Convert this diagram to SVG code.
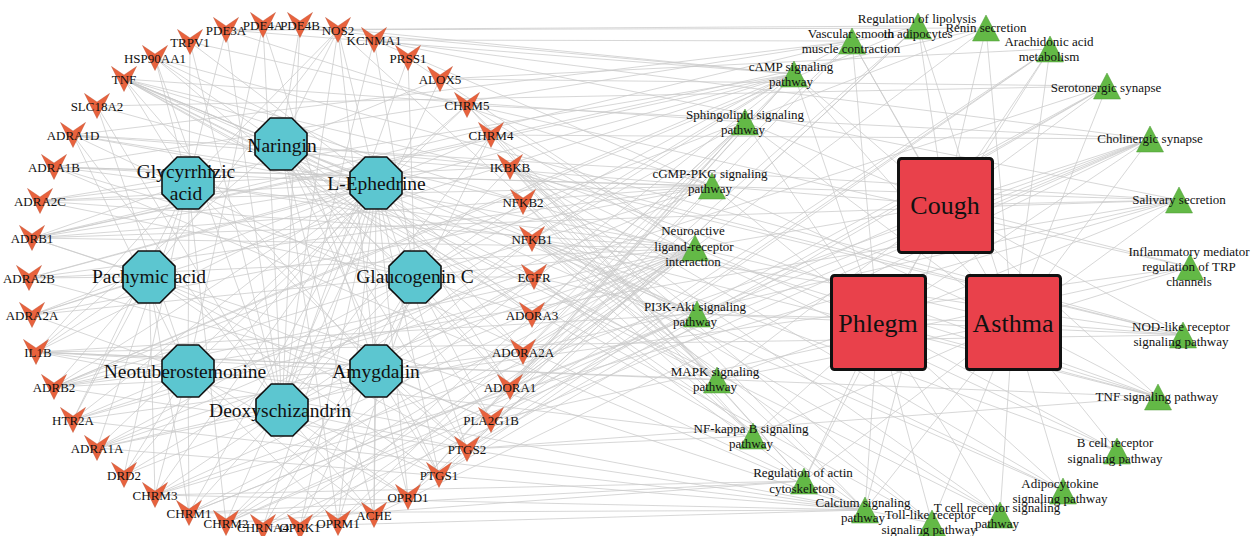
<svg xmlns="http://www.w3.org/2000/svg" xmlns:xlink="http://www.w3.org/1999/xlink" width="1251" height="536" viewBox="0 0 1251 536">
<style>
.e{fill:none;stroke:#c9c9c9;stroke-width:0.75}
.t{fill:#E8623D;stroke:#b94b2d;stroke-width:0.4}
.tl{font-family:"Liberation Serif","Times New Roman",serif;font-size:13px;fill:#111;text-anchor:middle}
.c{fill:#5CC6D0;stroke:#111;stroke-width:1.6}
.cl{font-family:"Liberation Serif","Times New Roman",serif;font-size:19.5px;fill:#111;text-anchor:middle}
.p{fill:#63B946;stroke:#4c9a36;stroke-width:0.5}
.d{fill:#E9414B;stroke:#111;stroke-width:3}
.dl{font-family:"Liberation Serif","Times New Roman",serif;font-size:26px;fill:#111;text-anchor:middle}
</style>
<defs>
<polygon id="v" points="-12.5,-12.5 0,-4 12.5,-12.5 0,12.5"/>
<polygon id="oct" points="-10.8,-26 10.8,-26 26,-10.8 26,10.8 10.8,26 -10.8,26 -26,10.8 -26,-10.8"/>
<polygon id="tri" points="0,-13 13.5,13 -13.5,13"/>
</defs>
<rect width="1251" height="536" fill="#fff"/>
<g id="connectors">
<path class="e" d="M376 183L32 238M376 183L40 201M376 183L54 167M376 183L73 135M376 183L97 106M376 183L97 448M376 183L54 387M376 183L32 315M376 183L29 278M376 183L73 420M376 183L124 475M376 183L189 513M376 183L226 523M376 183L155 495M376 183L491 135M376 183L467 105M376 183L263 527M376 183L338 523M376 183L300 527M376 183L408 497M376 183L374 515M376 183L439 475M376 183L467 449M376 183L338 30M376 183L124 79M376 183L36 352M376 183L510 387M376 183L532 315M376 183L523 352M376 183L190 42"/>
<path class="e" d="M282 410L226 30M282 410L263 25M282 410L300 25M282 410L338 30M282 410L374 40M282 410L408 58M282 410L440 79M282 410L190 42M282 410L155 58M282 410L439 475M282 410L467 449M282 410L97 448M282 410L189 513M282 410L155 495M282 410L408 497M282 410L374 515M282 410L532 239M282 410L534 277M282 410L510 167M282 410L491 135M282 410L97 106M282 410L73 135"/>
<path class="e" d="M281 144L439 475M281 144L467 449M281 144L338 30M281 144L155 58M281 144L124 79M281 144L36 352M281 144L534 277M281 144L532 239M281 144L523 202M281 144L510 167M281 144L440 79M281 144L510 387M281 144L523 352M281 144L532 315M281 144L491 420M281 144L374 515M281 144L300 25M281 144L338 523"/>
<path class="e" d="M188 183L32 238M188 183L40 201M188 183L124 79M188 183L36 352M188 183L532 239M188 183L467 449M188 183L338 30M188 183L155 58M188 183L226 523M188 183L124 475M188 183L97 448M188 183L510 167M188 183L226 30M188 183L73 420"/>
<path class="e" d="M149 277L29 278M149 277L32 315M149 277L36 352M149 277L439 475M149 277L467 449M149 277L338 30M149 277L54 387M149 277L491 420M149 277L155 495M149 277L73 420M149 277L32 238M149 277L189 513"/>
<path class="e" d="M415 277L408 58M415 277L374 40M415 277L523 202M415 277L534 277M415 277L510 387M415 277L532 315M415 277L491 420M415 277L338 523M415 277L300 527M415 277L263 527M415 277L155 58M415 277L40 201M415 277L54 167"/>
<path class="e" d="M188 371L54 387M188 371L73 420M188 371L155 495M188 371L189 513M188 371L374 515M188 371L97 106M188 371L73 135M188 371L190 42M188 371L408 497M188 371L338 523M188 371L124 475M188 371L32 315M188 371L263 25M188 371L467 105"/>
<path class="e" d="M376 371L467 449M376 371L439 475M376 371L408 497M376 371L374 515M376 371L124 79M376 371L36 352M376 371L532 239M376 371L534 277M376 371L523 352M376 371L491 420M376 371L226 523M376 371L491 135M376 371L338 30M376 371L263 25M376 371L29 278M376 371L54 387"/>
<path class="e" d="M794 74L32 238M794 74L54 387M794 74L226 30M794 74L263 25M794 74L300 25M794 74L226 523M794 74L124 475M794 74L510 387M794 74L523 352M794 74L532 239M794 74L32 315M794 74L29 278M794 74L40 201M794 74L408 497"/>
<path class="e" d="M745 122L124 79M745 122L532 239M745 122L510 387M745 122L532 315M745 122L408 497M745 122L338 523M745 122L300 527"/>
<path class="e" d="M712 186L32 238M712 186L54 387M712 186L97 448M712 186L54 167M712 186L73 135M712 186L32 315M712 186L29 278M712 186L40 201M712 186L226 30M712 186L374 40M712 186L510 387"/>
<path class="e" d="M695 248L32 238M695 248L54 387M695 248L97 448M695 248L54 167M695 248L73 135M695 248L32 315M695 248L29 278M695 248L40 201M695 248L189 513M695 248L226 523M695 248L155 495M695 248L491 135M695 248L467 105M695 248L263 527M695 248L124 475M695 248L73 420M695 248L408 497M695 248L300 527M695 248L338 523M695 248L510 387M695 248L523 352M695 248L532 315M695 248L408 58"/>
<path class="e" d="M697 314L534 277M697 314L510 167M697 314L532 239M697 314L155 58M697 314L189 513M697 314L226 523M697 314L124 79M697 314L36 352"/>
<path class="e" d="M717 380L124 79M717 380L36 352M717 380L532 239M717 380L523 202M717 380L510 167M717 380L534 277"/>
<path class="e" d="M753 436L124 79M753 436L36 352M753 436L532 239M753 436L523 202M753 436L510 167M753 436L467 449"/>
<path class="e" d="M804 481L189 513M804 481L226 523M804 481L155 495M804 481L491 135M804 481L467 105M804 481L534 277"/>
<path class="e" d="M865 510L32 238M865 510L54 387M865 510L97 448M865 510L54 167M865 510L73 135M865 510L189 513M865 510L155 495M865 510L467 105M865 510L73 420M865 510L338 30M865 510L534 277M865 510L263 527"/>
<path class="e" d="M932 523L124 79M932 523L36 352M932 523L532 239M932 523L510 167M1000 515L124 79M1000 515L532 239M1000 515L510 167M1063 491L124 79M1063 491L532 239M1063 491L510 167M1117 451L532 239M1117 451L510 167"/>
<path class="e" d="M1158 397L124 79M1158 397L36 352M1158 397L532 239M1158 397L510 167M1158 397L467 449M1183 335L532 239M1183 335L510 167M1183 335L124 79M1183 335L36 352M1183 335L155 58M1190 267L190 42M1190 267L73 420M1190 267L491 420"/>
<path class="e" d="M1179 200L32 238M1179 200L54 387M1179 200L97 448M1179 200L54 167M1179 200L73 135M1179 200L155 495M1179 200L374 40M1150 139L189 513M1150 139L226 523M1150 139L155 495M1150 139L491 135M1150 139L467 105M1150 139L374 515M1150 139L263 527M1150 139L374 40"/>
<path class="e" d="M1107 86L73 420M1107 86L439 475M1107 86L467 449M1107 86L440 79M1107 86L491 420M1107 86L97 106M1050 49L439 475M1050 49L467 449M1050 49L440 79M1050 49L491 420M986 28L32 238M986 28L54 387M986 28L226 30M986 28L510 387"/>
<path class="e" d="M852 41L97 448M852 41L54 167M852 41L73 135M852 41L374 40M852 41L523 352M852 41L491 420M918 26L32 238M918 26L54 387M918 26L226 30M918 26L510 387M918 26L439 475M918 26L467 449"/>
<path class="e" d="M945 205L918 26M945 205L852 41M945 205L986 28M945 205L1050 49M945 205L1107 86M945 205L1150 139M945 205L1179 200M945 205L1190 267M945 205L1183 335M945 205L1158 397M945 205L865 510M945 205L804 481M945 205L717 380M945 205L697 314M945 205L695 248M945 205L712 186M945 205L745 122M945 205L794 74"/>
<path class="e" d="M878 322L794 74M878 322L745 122M878 322L712 186M878 322L695 248M878 322L697 314M878 322L717 380M878 322L753 436M878 322L804 481M878 322L865 510M878 322L932 523M878 322L1000 515M878 322L1063 491M878 322L1117 451M878 322L1158 397M878 322L1183 335M878 322L1150 139M878 322L1179 200M878 322L1050 49M878 322L852 41"/>
<path class="e" d="M1013 322L918 26M1013 322L852 41M1013 322L986 28M1013 322L1050 49M1013 322L1107 86M1013 322L1150 139M1013 322L1179 200M1013 322L1190 267M1013 322L1183 335M1013 322L1158 397M1013 322L1117 451M1013 322L1063 491M1013 322L1000 515M1013 322L932 523M1013 322L865 510M1013 322L804 481M1013 322L753 436M1013 322L717 380M1013 322L697 314M1013 322L695 248M1013 322L712 186M1013 322L745 122M1013 322L794 74"/>
</g>
<g id="targets">
<g id="t-ADRB1"><use href="#v" class="t" x="32" y="238"/><text class="tl" x="32" y="243">ADRB1</text></g>
<g id="t-ADRA2C"><use href="#v" class="t" x="40" y="201"/><text class="tl" x="40" y="206">ADRA2C</text></g>
<g id="t-ADRA1B"><use href="#v" class="t" x="54" y="167"/><text class="tl" x="54" y="172">ADRA1B</text></g>
<g id="t-ADRA1D"><use href="#v" class="t" x="73" y="135"/><text class="tl" x="73" y="140">ADRA1D</text></g>
<g id="t-SLC18A2"><use href="#v" class="t" x="97" y="106"/><text class="tl" x="97" y="111">SLC18A2</text></g>
<g id="t-TNF"><use href="#v" class="t" x="124" y="79"/><text class="tl" x="124" y="84">TNF</text></g>
<g id="t-HSP90AA1"><use href="#v" class="t" x="155" y="58"/><text class="tl" x="155" y="63">HSP90AA1</text></g>
<g id="t-TRPV1"><use href="#v" class="t" x="190" y="42"/><text class="tl" x="190" y="47">TRPV1</text></g>
<g id="t-PDE3A"><use href="#v" class="t" x="226" y="30"/><text class="tl" x="226" y="35">PDE3A</text></g>
<g id="t-PDE4A"><use href="#v" class="t" x="263" y="25"/><text class="tl" x="263" y="30">PDE4A</text></g>
<g id="t-PDE4B"><use href="#v" class="t" x="300" y="25"/><text class="tl" x="300" y="30">PDE4B</text></g>
<g id="t-NOS2"><use href="#v" class="t" x="338" y="30"/><text class="tl" x="338" y="35">NOS2</text></g>
<g id="t-KCNMA1"><use href="#v" class="t" x="374" y="40"/><text class="tl" x="374" y="45">KCNMA1</text></g>
<g id="t-PRSS1"><use href="#v" class="t" x="408" y="58"/><text class="tl" x="408" y="63">PRSS1</text></g>
<g id="t-ALOX5"><use href="#v" class="t" x="440" y="79"/><text class="tl" x="440" y="84">ALOX5</text></g>
<g id="t-CHRM5"><use href="#v" class="t" x="467" y="105"/><text class="tl" x="467" y="110">CHRM5</text></g>
<g id="t-CHRM4"><use href="#v" class="t" x="491" y="135"/><text class="tl" x="491" y="140">CHRM4</text></g>
<g id="t-IKBKB"><use href="#v" class="t" x="510" y="167"/><text class="tl" x="510" y="172">IKBKB</text></g>
<g id="t-NFKB2"><use href="#v" class="t" x="523" y="202"/><text class="tl" x="523" y="207">NFKB2</text></g>
<g id="t-NFKB1"><use href="#v" class="t" x="532" y="239"/><text class="tl" x="532" y="244">NFKB1</text></g>
<g id="t-EGFR"><use href="#v" class="t" x="534" y="277"/><text class="tl" x="534" y="282">EGFR</text></g>
<g id="t-ADORA3"><use href="#v" class="t" x="532" y="315"/><text class="tl" x="532" y="320">ADORA3</text></g>
<g id="t-ADORA2A"><use href="#v" class="t" x="523" y="352"/><text class="tl" x="523" y="357">ADORA2A</text></g>
<g id="t-ADORA1"><use href="#v" class="t" x="510" y="387"/><text class="tl" x="510" y="392">ADORA1</text></g>
<g id="t-PLA2G1B"><use href="#v" class="t" x="491" y="420"/><text class="tl" x="491" y="425">PLA2G1B</text></g>
<g id="t-PTGS2"><use href="#v" class="t" x="467" y="449"/><text class="tl" x="467" y="454">PTGS2</text></g>
<g id="t-PTGS1"><use href="#v" class="t" x="439" y="475"/><text class="tl" x="439" y="480">PTGS1</text></g>
<g id="t-OPRD1"><use href="#v" class="t" x="408" y="497"/><text class="tl" x="408" y="502">OPRD1</text></g>
<g id="t-ACHE"><use href="#v" class="t" x="374" y="515"/><text class="tl" x="374" y="520">ACHE</text></g>
<g id="t-OPRM1"><use href="#v" class="t" x="338" y="523"/><text class="tl" x="338" y="528">OPRM1</text></g>
<g id="t-CHRNA4"><use href="#v" class="t" x="263" y="527"/><text class="tl" x="263" y="532">CHRNA4</text></g>
<g id="t-OPRK1"><use href="#v" class="t" x="300" y="527"/><text class="tl" x="300" y="532">OPRK1</text></g>
<g id="t-CHRM2"><use href="#v" class="t" x="226" y="523"/><text class="tl" x="226" y="528">CHRM2</text></g>
<g id="t-CHRM1"><use href="#v" class="t" x="189" y="513"/><text class="tl" x="189" y="518">CHRM1</text></g>
<g id="t-CHRM3"><use href="#v" class="t" x="155" y="495"/><text class="tl" x="155" y="500">CHRM3</text></g>
<g id="t-DRD2"><use href="#v" class="t" x="124" y="475"/><text class="tl" x="124" y="480">DRD2</text></g>
<g id="t-ADRA1A"><use href="#v" class="t" x="97" y="448"/><text class="tl" x="97" y="453">ADRA1A</text></g>
<g id="t-HTR2A"><use href="#v" class="t" x="73" y="420"/><text class="tl" x="73" y="425">HTR2A</text></g>
<g id="t-ADRB2"><use href="#v" class="t" x="54" y="387"/><text class="tl" x="54" y="392">ADRB2</text></g>
<g id="t-IL1B"><use href="#v" class="t" x="36" y="352"/><text class="tl" x="38" y="357">IL1B</text></g>
<g id="t-ADRA2A"><use href="#v" class="t" x="32" y="315"/><text class="tl" x="32" y="320">ADRA2A</text></g>
<g id="t-ADRA2B"><use href="#v" class="t" x="29" y="278"/><text class="tl" x="29" y="283">ADRA2B</text></g>
</g>
<g id="compounds">
<g id="c-Naringin"><use href="#oct" class="c" x="281" y="144"/><text class="cl" x="282" y="151.5">Naringin</text></g>
<g id="c-Glycyrrhizic-acid"><use href="#oct" class="c" x="188" y="183"/><text class="cl" x="186" y="178">Glycyrrhizic</text><text class="cl" x="186" y="200">acid</text></g>
<g id="c-L-Ephedrine"><use href="#oct" class="c" x="376" y="183"/><text class="cl" x="376.5" y="190">L-Ephedrine</text></g>
<g id="c-Pachymic-acid"><use href="#oct" class="c" x="149" y="277"/><text class="cl" x="149" y="283">Pachymic acid</text></g>
<g id="c-Glaucogenin-C"><use href="#oct" class="c" x="415" y="277"/><text class="cl" x="415" y="283">Glaucogenin C</text></g>
<g id="c-Neotuberostemonine"><use href="#oct" class="c" x="188" y="371"/><text class="cl" x="185" y="378">Neotuberostemonine</text></g>
<g id="c-Amygdalin"><use href="#oct" class="c" x="376" y="371"/><text class="cl" x="376" y="378">Amygdalin</text></g>
<g id="c-Deoxyschizandrin"><use href="#oct" class="c" x="282" y="410"/><text class="cl" x="280" y="417">Deoxyschizandrin</text></g>
</g>
<g id="pathways">
<g id="p-lipolysis"><use href="#tri" class="p" x="918" y="26"/><text class="tl" x="917" y="23">Regulation of lipolysis</text><text class="tl" x="918" y="37.5">in adipocytes</text></g>
<g id="p-vascular"><use href="#tri" class="p" x="852" y="41"/><text class="tl" x="851" y="37.5">Vascular smooth</text><text class="tl" x="851" y="52.5">muscle contraction</text></g>
<g id="p-renin"><use href="#tri" class="p" x="986" y="28"/><text class="tl" x="986" y="32">Renin secretion</text></g>
<g id="p-arachidonic"><use href="#tri" class="p" x="1050" y="49"/><text class="tl" x="1049" y="45.5">Arachidonic acid</text><text class="tl" x="1049" y="61">metabolism</text></g>
<g id="p-serotonergic"><use href="#tri" class="p" x="1107" y="86"/><text class="tl" x="1106" y="91.5">Serotonergic synapse</text></g>
<g id="p-cholinergic"><use href="#tri" class="p" x="1150" y="139"/><text class="tl" x="1150" y="142.5">Cholinergic synapse</text></g>
<g id="p-salivary"><use href="#tri" class="p" x="1179" y="200"/><text class="tl" x="1179" y="204">Salivary secretion</text></g>
<g id="p-trp"><use href="#tri" class="p" x="1190" y="267"/><text class="tl" x="1189" y="256">Inflammatory mediator</text><text class="tl" x="1189" y="271">regulation of TRP</text><text class="tl" x="1189" y="286">channels</text></g>
<g id="p-nod"><use href="#tri" class="p" x="1183" y="335"/><text class="tl" x="1181" y="330.5">NOD-like receptor</text><text class="tl" x="1181" y="346">signaling pathway</text></g>
<g id="p-tnf"><use href="#tri" class="p" x="1158" y="397"/><text class="tl" x="1157" y="400.5">TNF signaling pathway</text></g>
<g id="p-bcell"><use href="#tri" class="p" x="1117" y="451"/><text class="tl" x="1115" y="447">B cell receptor</text><text class="tl" x="1115" y="462.5">signaling pathway</text></g>
<g id="p-adipocytokine"><use href="#tri" class="p" x="1063" y="491"/><text class="tl" x="1060" y="488">Adipocytokine</text><text class="tl" x="1060" y="503">signaling pathway</text></g>
<g id="p-tcell"><use href="#tri" class="p" x="1000" y="515"/><text class="tl" x="997" y="512">T cell receptor signaling</text><text class="tl" x="997" y="527.5">pathway</text></g>
<g id="p-toll"><use href="#tri" class="p" x="932" y="523"/><text class="tl" x="930" y="519">Toll-like receptor</text><text class="tl" x="929" y="533.5">signaling pathway</text></g>
<g id="p-calcium"><use href="#tri" class="p" x="865" y="510"/><text class="tl" x="863" y="506.5">Calcium signaling</text><text class="tl" x="863" y="522">pathway</text></g>
<g id="p-actin"><use href="#tri" class="p" x="804" y="481"/><text class="tl" x="803" y="477">Regulation of actin</text><text class="tl" x="802" y="492.5">cytoskeleton</text></g>
<g id="p-nfkb"><use href="#tri" class="p" x="753" y="436"/><text class="tl" x="751" y="433">NF-kappa B signaling</text><text class="tl" x="751" y="448">pathway</text></g>
<g id="p-mapk"><use href="#tri" class="p" x="717" y="380"/><text class="tl" x="715" y="375.5">MAPK signaling</text><text class="tl" x="715" y="391">pathway</text></g>
<g id="p-pi3k"><use href="#tri" class="p" x="697" y="314"/><text class="tl" x="695" y="310.5">PI3K-Akt signaling</text><text class="tl" x="695" y="325.5">pathway</text></g>
<g id="p-neuroactive"><use href="#tri" class="p" x="695" y="248"/><text class="tl" x="693" y="235">Neuroactive</text><text class="tl" x="694" y="250.5">ligand-receptor</text><text class="tl" x="693" y="265.5">interaction</text></g>
<g id="p-cgmp"><use href="#tri" class="p" x="712" y="186"/><text class="tl" x="710" y="177.5">cGMP-PKG signaling</text><text class="tl" x="710" y="192.5">pathway</text></g>
<g id="p-sphingolipid"><use href="#tri" class="p" x="745" y="122"/><text class="tl" x="745" y="118.5">Sphingolipid signaling</text><text class="tl" x="743" y="133.5">pathway</text></g>
<g id="p-camp"><use href="#tri" class="p" x="794" y="74"/><text class="tl" x="791" y="70.5">cAMP signaling</text><text class="tl" x="791" y="85.5">pathway</text></g>
</g>
<g id="diseases">
<g id="d-Cough"><rect class="d" x="898.5" y="158.5" width="94" height="94" rx="3"/><text class="dl" x="945" y="214">Cough</text></g>
<g id="d-Phlegm"><rect class="d" x="831.5" y="275.5" width="94" height="94" rx="3"/><text class="dl" x="878" y="332">Phlegm</text></g>
<g id="d-Asthma"><rect class="d" x="966.5" y="275.5" width="94" height="94" rx="3"/><text class="dl" x="1013" y="332">Asthma</text></g>
</g>
</svg>
